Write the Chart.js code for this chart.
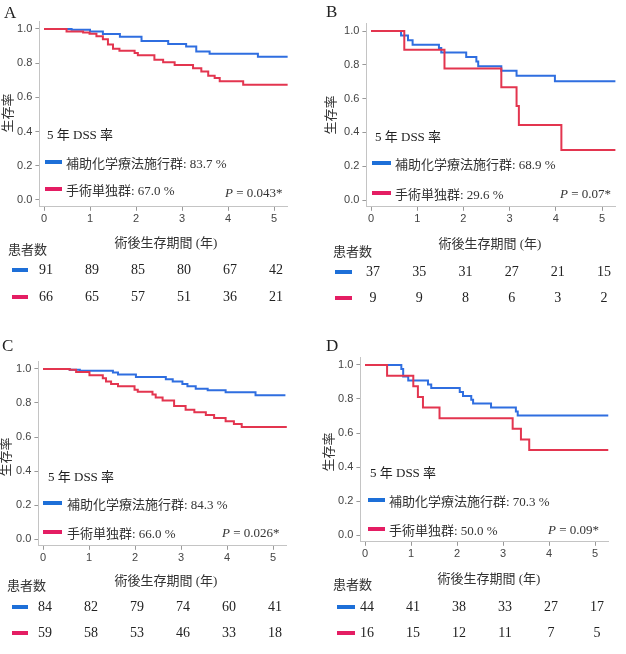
<!DOCTYPE html>
<html><head><meta charset="utf-8">
<script src="https://cdn.jsdelivr.net/npm/chart.js@4.4.1/dist/chart.umd.min.js"></script>
<style>
html,body{margin:0;padding:0;background:#fff;}
body{width:626px;height:654px;position:relative;overflow:hidden;font-family:"Liberation Serif","Noto Sans CJK JP",serif;color:#222;}
.t{position:absolute;white-space:nowrap;line-height:1;transform:translateY(-50%);}
.bar{position:absolute;height:4px;}
canvas{position:absolute;}
</style></head><body>
<script>
// ---------- data ----------
const xTickVals = [0, 1, 2, 3, 4, 5];
const yTickVals = [0, 0.2, 0.4, 0.6, 0.8, 1.0];
const panelLetters = ['A', 'B', 'C', 'D'];
const blueLabel = '補助化学療法施行群';
const redLabel = '手術単独群';
const fiveYearBlue = ['83.7', '68.9', '84.3', '70.3'];
const fiveYearRed = ['67.0', '29.6', '66.0', '50.0'];
const pValues = ['0.043', '0.07', '0.026', '0.09'];

const aBlueT = [0, 0.6, 1.0, 1.28, 1.65, 2.12, 2.7, 3.09, 3.31, 3.6, 4.65, 5.3];
const aBlueS = [1, 0.995, 0.985, 0.971, 0.955, 0.93, 0.912, 0.898, 0.869, 0.855, 0.837, 0.837];
const aRedT = [0, 0.49, 0.85, 0.99, 1.14, 1.28, 1.39, 1.5, 1.64, 1.97, 2.04, 2.4, 2.59, 2.84, 3.24, 3.42, 3.57, 3.71, 3.82, 4.33, 5.3];
const aRedS = [1, 0.986, 0.98, 0.972, 0.958, 0.94, 0.91, 0.885, 0.873, 0.859, 0.846, 0.82, 0.805, 0.789, 0.771, 0.752, 0.727, 0.713, 0.695, 0.674, 0.674];

const bBlueT = [0, 0.65, 0.8, 0.9, 1.47, 1.52, 2.06, 2.28, 2.32, 2.82, 3.15, 3.98, 5.29];
const bBlueS = [1, 0.973, 0.946, 0.919, 0.9, 0.873, 0.846, 0.819, 0.792, 0.765, 0.736, 0.703, 0.703];
const bRedT = [0, 0.72, 1.59, 2.82, 3.15, 3.2, 4.12, 5.29];
const bRedS = [1, 0.889, 0.778, 0.667, 0.556, 0.444, 0.296, 0.296];

const cBlueT = [0, 0.58, 0.8, 1.52, 1.63, 2.02, 2.67, 2.82, 3.03, 3.14, 3.32, 3.58, 3.97, 4.62, 5.27];
const cBlueS = [1, 0.995, 0.99, 0.98, 0.967, 0.953, 0.94, 0.927, 0.912, 0.898, 0.884, 0.875, 0.863, 0.845, 0.845];
const cRedT = [0, 0.58, 0.72, 1.01, 1.3, 1.37, 1.48, 1.63, 1.99, 2.06, 2.38, 2.45, 2.6, 2.85, 3.1, 3.29, 3.54, 3.72, 3.97, 4.15, 4.32, 5.32];
const cRedS = [1, 0.995, 0.982, 0.963, 0.945, 0.927, 0.912, 0.898, 0.878, 0.866, 0.85, 0.833, 0.815, 0.782, 0.76, 0.745, 0.73, 0.712, 0.692, 0.676, 0.659, 0.659];

const dBlueT = [0, 0.79, 0.83, 0.94, 1.37, 1.44, 2.06, 2.13, 2.31, 2.35, 2.74, 3.28, 3.32, 5.29];
const dBlueS = [1, 0.977, 0.932, 0.909, 0.886, 0.864, 0.841, 0.818, 0.795, 0.773, 0.75, 0.727, 0.703, 0.703];
const dRedT = [0, 0.48, 1.05, 1.15, 1.26, 1.62, 3.21, 3.39, 3.57, 5.29];
const dRedS = [1, 0.9375, 0.875, 0.8125, 0.75, 0.6875, 0.625, 0.5625, 0.5, 0.5];

const aRiskBlue = [91, 89, 85, 80, 67, 42];
const aRiskRed = [66, 65, 57, 51, 36, 21];
const bRiskBlue = [37, 35, 31, 27, 21, 15];
const bRiskRed = [9, 9, 8, 6, 3, 2];
const cRiskBlue = [84, 82, 79, 74, 60, 41];
const cRiskRed = [59, 58, 53, 46, 33, 18];
const dRiskBlue = [44, 41, 38, 33, 27, 17];
const dRiskRed = [16, 15, 12, 11, 7, 5];

// ---------- layout ----------
const BLUE = '#2f6ee0', RED = '#e3354f';
const BLUE_KEY = '#1d6fd8', RED_KEY = '#e41d63';
const panels = [
  {ox:0, oy:0, left:39.4, right:287.8, top:21.3, bottom:206.8, bT:aBlueT, bS:aBlueS, rT:aRedT, rS:aRedS, rb:aRiskBlue, rr:aRiskRed,
   letter:[4,4], dss:[47,134], leg:[45,62,66,162,189], p:[225,192], yt:[6,113], xt:[166,242], pat:[8,248], rk:[12,28,270,297]},
  {ox:313, oy:0, left:53.4, right:302.9, top:23.4, bottom:206.8, bT:bBlueT, bS:bBlueS, rT:bRedT, rS:bRedS, rb:bRiskBlue, rr:bRiskRed,
   letter:[13,3], dss:[62,136], leg:[59,78,82,163,193], p:[247,193], yt:[16,115], xt:[177,243], pat:[20,250], rk:[22,39,272,298]},
  {ox:0, oy:330, left:38.4, right:286.8, top:31.35, bottom:215.8, bT:cBlueT, bS:cBlueS, rT:cRedT, rS:cRedS, rb:cRiskBlue, rr:cRiskRed,
   letter:[2,7], dss:[48,146], leg:[43,62,67,173,202], p:[222,202], yt:[4,127], xt:[166,250], pat:[7,254], rk:[12,28,277,303]},
  {ox:313, oy:330, left:47.4, right:295.8, top:27.35, bottom:211.8, bT:dBlueT, bS:dBlueS, rT:dRedT, rS:dRedS, rb:dRiskBlue, rr:dRiskRed,
   letter:[13,7], dss:[57,142], leg:[55,72,76,170,199], p:[235,199], yt:[14,122], xt:[176,248], pat:[20,253], rk:[24,42,277,303]}
];
const W = 313, H = 330;

function addText(txt, x, y, css) {
  const d = document.createElement('div');
  d.className = 't';
  d.textContent = txt;
  d.style.left = x + 'px';
  d.style.top = y + 'px';
  if (css) Object.assign(d.style, css);
  document.body.appendChild(d);
  return d;
}
function addHTML(html, x, y, css) {
  const d = addText('', x, y, css);
  d.innerHTML = html;
  return d;
}
function addBar(x1, x2, y, color) {
  const d = document.createElement('div');
  d.className = 'bar';
  d.style.left = x1 + 'px';
  d.style.width = (x2 - x1) + 'px';
  d.style.top = (y - 2) + 'px';
  d.style.background = color;
  document.body.appendChild(d);
}

panels.forEach((p, idx) => {
  const cv = document.createElement('canvas');
  cv.width = W; cv.height = H;
  cv.style.left = p.ox + 'px'; cv.style.top = p.oy + 'px';
  cv.style.width = W + 'px'; cv.style.height = H + 'px';
  document.body.appendChild(cv);

  const riskPlugin = {
    id: 'risk' + idx,
    afterDraw(chart) {
      const ctx = chart.ctx, xs = chart.scales.x;
      ctx.save();
      ctx.font = '14px "Liberation Serif"';
      ctx.fillStyle = '#222';
      ctx.textAlign = 'center';
      ctx.textBaseline = 'middle';
      xTickVals.forEach((v, i) => {
        const px = xs.getPixelForValue(v) + 2;
        ctx.fillText(String(p.rb[i]), px, p.rk[2]);
        ctx.fillText(String(p.rr[i]), px, p.rk[3]);
      });
      ctx.restore();
    }
  };

  new Chart(cv, {
    type: 'line',
    data: {
      datasets: [
        {data: p.bT.map((t, i) => ({x: t, y: p.bS[i]})), borderColor: BLUE, borderWidth: 2, stepped: 'before', pointRadius: 0, fill: false, order: 1},
        {data: p.rT.map((t, i) => ({x: t, y: p.rS[i]})), borderColor: RED, borderWidth: 2, stepped: 'before', pointRadius: 0, fill: false, order: 0}
      ]
    },
    options: {
      responsive: false, animation: false, devicePixelRatio: 1,
      layout: {padding: {left: p.left - 30, right: W - p.right, top: p.top, bottom: H - p.bottom - 20}},
      plugins: {legend: {display: false}, tooltip: {enabled: false}},
      scales: {
        x: {
          type: 'linear', min: -0.1, max: 5.3,
          afterFit(s) { s.height = 20; },
          afterBuildTicks(s) { s.ticks = xTickVals.map(v => ({value: v})); },
          grid: {drawOnChartArea: false, drawTicks: true, tickLength: 4, color: '#999'},
          border: {color: '#c4c4c4', width: 1},
          ticks: {font: {family: 'Liberation Sans', size: 11}, color: '#444', padding: 2, maxRotation: 0, callback: v => String(v)}
        },
        y: {
          type: 'linear', min: -0.04, max: 1.045,
          afterFit(s) { s.width = 30; },
          afterBuildTicks(s) { s.ticks = yTickVals.map(v => ({value: v})); },
          grid: {drawOnChartArea: false, drawTicks: true, tickLength: 4, color: '#999'},
          border: {color: '#c4c4c4', width: 1},
          ticks: {font: {family: 'Liberation Sans', size: 11}, color: '#444', padding: 3, callback: v => Number(v).toFixed(1)}
        }
      }
    },
    plugins: [riskPlugin]
  });

  const X = p.ox, Y = p.oy;
  addText(panelLetters[idx], X + p.letter[0], Y + p.letter[1] + 8, {fontSize: '17px', fontFamily: '"Liberation Serif", serif'});
  addText('5 年 DSS 率', X + p.dss[0], Y + p.dss[1], {fontSize: '13px'});
  addBar(X + p.leg[0], X + p.leg[1], Y + p.leg[3], BLUE_KEY);
  addBar(X + p.leg[0], X + p.leg[1], Y + p.leg[4], RED_KEY);
  addText(blueLabel + ': ' + fiveYearBlue[idx] + ' %', X + p.leg[2], Y + p.leg[3] + 1, {fontSize: '13px', color: '#333'});
  addText(redLabel + ': ' + fiveYearRed[idx] + ' %', X + p.leg[2], Y + p.leg[4] + 1, {fontSize: '13px', color: '#333'});
  addHTML('<i>P</i> = ' + pValues[idx] + '*', X + p.p[0], Y + p.p[1], {fontSize: '13px', color: '#333'});
  addText('生存率', X + p.yt[0], Y + p.yt[1], {fontSize: '13px', fontFamily: '"Noto Sans CJK JP", sans-serif', transform: 'translate(-50%,-50%) rotate(-90deg)', color: '#333'});
  addText('術後生存期間 (年)', X + p.xt[0], Y + p.xt[1], {fontSize: '13px', transform: 'translate(-50%,-50%)', color: '#333'});
  addText('患者数', X + p.pat[0], Y + p.pat[1], {fontSize: '13px', fontFamily: '"Noto Sans CJK JP", sans-serif', color: '#333'});
  addBar(X + p.rk[0], X + p.rk[1], Y + p.rk[2], BLUE_KEY);
  addBar(X + p.rk[0], X + p.rk[1], Y + p.rk[3], RED_KEY);
});
</script>
</body></html>
